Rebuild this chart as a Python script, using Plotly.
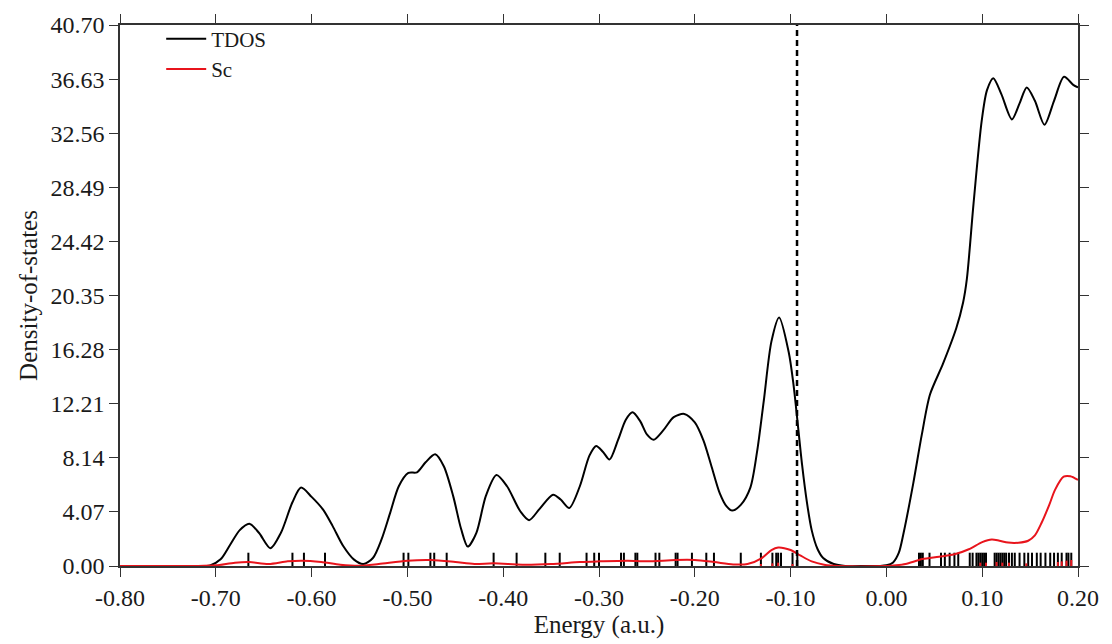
import plotly.graph_objects as go

# ---------------- data ----------------
tdos_energy = [-0.80, -0.72, -0.706, -0.695, -0.685, -0.675, -0.665, -0.655, -0.643, -0.632,
               -0.620, -0.611, -0.600, -0.588, -0.578, -0.567, -0.556, -0.546, -0.536, -0.527,
               -0.518, -0.509, -0.499, -0.490, -0.481, -0.471, -0.462, -0.452, -0.444, -0.437,
               -0.428, -0.418, -0.407, -0.396, -0.382, -0.373, -0.362, -0.348, -0.340, -0.331,
               -0.320, -0.310, -0.303, -0.296, -0.289, -0.280, -0.272, -0.265, -0.257, -0.250,
               -0.243, -0.233, -0.222, -0.211, -0.200, -0.191, -0.183, -0.174, -0.167, -0.161,
               -0.152, -0.142, -0.135, -0.128, -0.120, -0.112, -0.102, -0.097, -0.088, -0.083,
               -0.078, -0.072, -0.066, -0.055, -0.043, -0.020, -0.007, 0.000, 0.007, 0.013,
               0.018, 0.028, 0.037, 0.0455, 0.059, 0.073, 0.080, 0.084, 0.091, 0.0995, 0.105,
               0.1116, 0.120, 0.131, 0.139, 0.1465, 0.155, 0.165, 0.175, 0.1854, 0.195, 0.200]
tdos_values = [0.0, 0.0, 0.05, 0.5, 1.6, 2.7, 3.18, 2.5, 1.34, 2.5,
               4.8, 5.9, 5.2, 4.24, 3.0, 1.5, 0.5, 0.15, 0.6, 2.0,
               4.0, 6.0, 7.0, 7.05, 7.8, 8.4, 7.5, 5.2, 2.8, 1.46,
               2.5, 5.3, 6.85, 6.0, 4.1, 3.45, 4.3, 5.36, 5.0, 4.37,
               6.0, 8.3, 9.03, 8.6, 8.01, 9.5, 11.0, 11.56, 10.9, 9.9,
               9.5, 10.2, 11.2, 11.44, 10.8, 9.45, 7.6, 5.48, 4.5, 4.17,
               4.6, 5.9, 8.6, 12.43, 16.9, 18.7, 16.1, 13.67, 7.6, 4.8,
               2.7, 1.3, 0.6, 0.15, 0.0, 0.0, 0.0, 0.05, 0.27, 1.0,
               2.5, 6.2, 9.9, 12.9, 15.2, 17.9, 19.8, 21.6, 27.3, 33.5, 35.8,
               36.7, 35.5, 33.6, 34.8, 36.0, 35.0, 33.2, 35.0, 36.8, 36.2, 36.0]

sc_energy = [-0.80, -0.72, -0.70, -0.68, -0.665, -0.645, -0.625, -0.61, -0.59, -0.57,
             -0.55, -0.53, -0.50, -0.475, -0.45, -0.43, -0.41, -0.38, -0.35, -0.32,
             -0.30, -0.27, -0.25, -0.22, -0.20, -0.18, -0.16, -0.145, -0.13, -0.12,
             -0.113, -0.10, -0.09, -0.078, -0.065, -0.05, 0.00, 0.01, 0.02, 0.0375,
             0.055, 0.072, 0.086, 0.100, 0.110, 0.118, 0.127, 0.138, 0.148, 0.155,
             0.162, 0.170, 0.176, 0.185, 0.192, 0.200]
sc_values = [0.0, 0.0, 0.05, 0.25, 0.3, 0.15, 0.35, 0.4, 0.3, 0.1,
             0.02, 0.15, 0.4, 0.45, 0.3, 0.15, 0.2, 0.1, 0.15, 0.3,
             0.35, 0.4, 0.35, 0.45, 0.45, 0.3, 0.12, 0.15, 0.6, 1.2,
             1.39, 1.2, 0.8, 0.35, 0.1, 0.0, 0.0, 0.05, 0.15, 0.52,
             0.7, 0.9, 1.26, 1.8, 2.0, 1.9, 1.76, 1.75, 1.9, 2.3,
             3.25, 4.6, 5.73, 6.72, 6.75, 6.47]

# orbital energy levels (black sticks)
orbital_levels = [-0.666, -0.620, -0.608, -0.586, -0.504, -0.499, -0.476, -0.472, -0.459,
                  -0.410, -0.386, -0.356, -0.341, -0.313, -0.305, -0.300, -0.277, -0.274,
                  -0.262, -0.260, -0.241, -0.237, -0.220, -0.218, -0.203, -0.188, -0.180,
                  -0.152, -0.131, -0.119, -0.115, -0.113, -0.110, -0.098, -0.093,
                  0.034, 0.036, 0.038, 0.045, 0.057, 0.061, 0.066, 0.071, 0.075, 0.087,
                  0.090, 0.094, 0.096, 0.098, 0.100, 0.102, 0.104, 0.113, 0.115, 0.117,
                  0.119, 0.121, 0.123, 0.125, 0.128, 0.131, 0.134, 0.139, 0.144, 0.148,
                  0.152, 0.157, 0.161, 0.166, 0.171, 0.175, 0.179, 0.183, 0.188, 0.190, 0.193]
orbital_stick_height = 1.0

# Sc contributions of orbitals (red sticks)
sc_levels = [-0.131, -0.119, -0.113, -0.098, 0.098, 0.104, 0.115, 0.121, 0.128, 0.146,
             0.179, 0.183, 0.188, 0.193]
sc_stick_heights = [0.15, 0.2, 0.25, 0.15, 0.25, 0.25, 0.3, 0.25, 0.25, 0.2,
                    0.3, 0.35, 0.4, 0.45]

homo_energy = -0.0933

x_tick_values = [-0.80, -0.70, -0.60, -0.50, -0.40, -0.30, -0.20, -0.10, 0.00, 0.10, 0.20]
x_tick_labels = ["-0.80", "-0.70", "-0.60", "-0.50", "-0.40", "-0.30", "-0.20", "-0.10",
                 "0.00", "0.10", "0.20"]
y_tick_values = [0.00, 4.07, 8.14, 12.21, 16.28, 20.35, 24.42, 28.49, 32.56, 36.63, 40.70]
y_tick_labels = ["0.00", "4.07", "8.14", "12.21", "16.28", "20.35", "24.42", "28.49",
                 "32.56", "36.63", "40.70"]

# ---------------- build stick traces ----------------
def sticks(levels, heights):
    xs, ys = [], []
    for e, h in zip(levels, heights):
        xs += [e, e, None]
        ys += [0, h, None]
    return xs, ys

ox, oy = sticks(orbital_levels, [orbital_stick_height] * len(orbital_levels))
sx, sy = sticks(sc_levels, sc_stick_heights)

FONT = "Liberation Serif, Times New Roman, serif"

fig = go.Figure()
fig.add_trace(go.Scatter(x=ox, y=oy, mode="lines", line=dict(color="black", width=2),
                         showlegend=False, hoverinfo="skip"))
fig.add_trace(go.Scatter(x=sx, y=sy, mode="lines", line=dict(color="#e8141c", width=2),
                         showlegend=False, hoverinfo="skip"))
fig.add_trace(go.Scatter(x=tdos_energy, y=tdos_values, mode="lines", name="TDOS",
                         line=dict(color="black", width=2, shape="spline", smoothing=0.8)))
fig.add_trace(go.Scatter(x=sc_energy, y=sc_values, mode="lines", name="Sc",
                         line=dict(color="#e8141c", width=2, shape="spline", smoothing=0.8)))

fig.add_shape(type="line", xref="x", yref="paper", x0=homo_energy, x1=homo_energy,
              y0=0, y1=1, line=dict(color="black", width=2.5, dash="6px,4px"))

axis_common = dict(showline=True, linecolor="#333333", linewidth=1.5, mirror="allticks",
                   ticks="outside", ticklen=9, tickwidth=1.2, tickcolor="#333333",
                   showgrid=False, zeroline=False,
                   tickfont=dict(family=FONT, size=24, color="#1a1a1a"))

fig.update_xaxes(range=[-0.80, 0.20], tickvals=x_tick_values, ticktext=x_tick_labels,
                 title=dict(text="Energy (a.u.)", font=dict(family=FONT, size=25, color="#1a1a1a"),
                            standoff=4),
                 **axis_common)
fig.update_yaxes(range=[0, 40.70], tickvals=y_tick_values, ticktext=y_tick_labels,
                 title=dict(text="Density-of-states", font=dict(family=FONT, size=25, color="#1a1a1a"),
                            standoff=6),
                 **axis_common)

fig.update_layout(
    width=1112, height=644,
    margin=dict(l=120, r=34, t=22, b=77),
    plot_bgcolor="white", paper_bgcolor="white",
    font=dict(family=FONT, color="#1a1a1a"),
    legend=dict(x=0.043, y=1.012, xanchor="left", yanchor="top",
                font=dict(family=FONT, size=21, color="#1a1a1a"),
                bgcolor="rgba(0,0,0,0)", tracegroupgap=0, itemwidth=40),
)

fig.write_html("out.html", config={"displayModeBar": False},
               post_script="document.body.style.margin='0';document.body.style.overflow='hidden';")
